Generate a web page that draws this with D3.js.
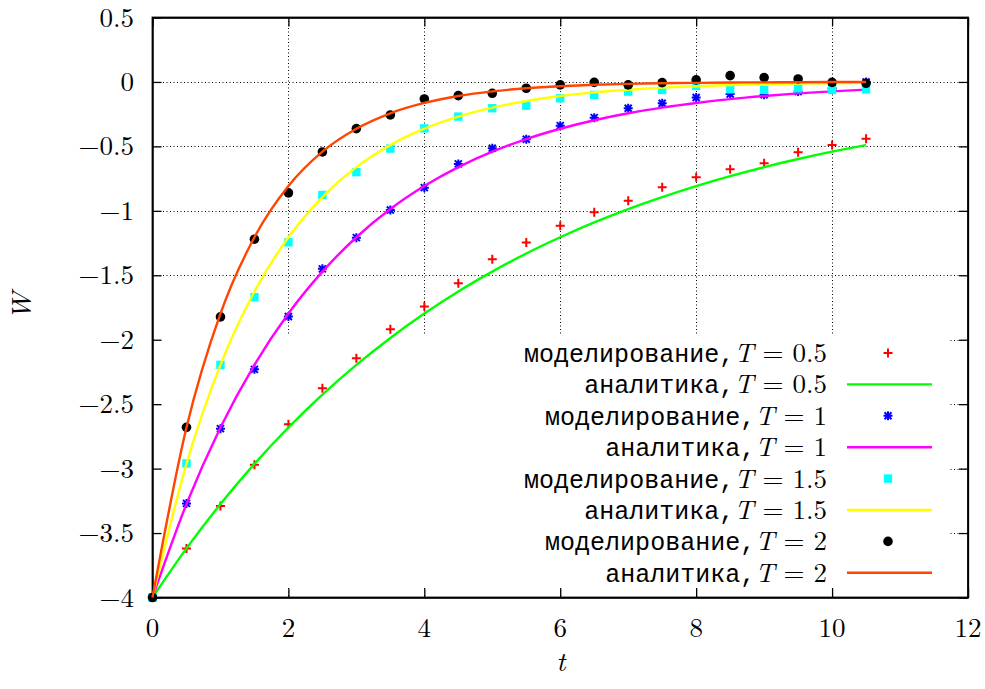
<!DOCTYPE html>
<html><head><meta charset="utf-8">
<script src="https://cdn.jsdelivr.net/npm/d3@7"></script>
<style>body{margin:0;background:#fff}svg{display:block}</style>
</head><body>
<svg id="c" width="985" height="689"></svg>
<script>
const tVals = [0,0.5,1,1.5,2,2.5,3,3.5,4,4.5,5,5.5,6,6.5,7,7.5,8,8.5,9,9.5,10,10.5];
const simT05 = [-4,-3.62,-3.29,-2.97,-2.656,-2.376,-2.144,-1.919,-1.743,-1.562,-1.376,-1.246,-1.115,-1.011,-0.921,-0.817,-0.740,-0.677,-0.631,-0.546,-0.489,-0.44];
const anaT05 = [-4,-3.619,-3.275,-2.963,-2.681,-2.426,-2.195,-1.986,-1.797,-1.626,-1.472,-1.331,-1.205,-1.090,-0.986,-0.893,-0.808,-0.731,-0.661,-0.598,-0.541,-0.490];
const simT1 = [-4,-3.27,-2.69,-2.23,-1.82,-1.45,-1.208,-0.993,-0.82,-0.636,-0.515,-0.445,-0.339,-0.277,-0.204,-0.165,-0.121,-0.093,-0.10,-0.075,-0.05,0.0];
const anaT1 = [-4,-3.275,-2.681,-2.195,-1.797,-1.472,-1.205,-0.986,-0.808,-0.661,-0.541,-0.443,-0.363,-0.297,-0.243,-0.199,-0.163,-0.133,-0.109,-0.089,-0.073,-0.060];
const simT15 = [-4,-2.96,-2.195,-1.67,-1.244,-0.877,-0.70,-0.517,-0.36,-0.269,-0.204,-0.184,-0.127,-0.101,-0.075,-0.062,-0.031,-0.057,-0.062,-0.049,-0.062,-0.057];
const anaT15 = [-4,-2.963,-2.195,-1.626,-1.205,-0.893,-0.661,-0.490,-0.363,-0.269,-0.199,-0.148,-0.109,-0.081,-0.060,-0.044,-0.033,-0.024,-0.018,-0.013,-0.010,-0.007];
const simT2 = [-4,-2.68,-1.823,-1.22,-0.861,-0.543,-0.362,-0.256,-0.132,-0.106,-0.088,-0.049,-0.023,-0.003,-0.023,-0.005,0.016,0.049,0.034,0.023,-0.003,-0.01];
const anaT2 = [-4,-2.681,-1.797,-1.205,-0.808,-0.541,-0.363,-0.243,-0.163,-0.109,-0.073,-0.049,-0.033,-0.022,-0.015,-0.010,-0.007,-0.004,-0.003,-0.002,-0.001,-0.001];
const xTicks = [0,2,4,6,8,10,12];
const yTicks = [-4,-3.5,-3,-2.5,-2,-1.5,-1,-0.5,0,0.5];
const tValues = ["0.5","1","1.5","2"];

const SERIF = '"Latin Modern Roman"';
const MONO = '"Liberation Mono"';
const svg = d3.select("#c");
const x = d3.scaleLinear().domain([0,12]).range([152.5,968]);
const y = d3.scaleLinear().domain([-4,0.5]).range([597.5,17.5]);

// grid
const grid = svg.append("g").attr("stroke","#000").attr("stroke-width",1).attr("stroke-dasharray","1,2.5");
xTicks.filter(v=>v>0&&v<12).forEach(v=>{
  grid.append("line").attr("x1",Math.round(x(v))+0.5).attr("x2",Math.round(x(v))+0.5).attr("y1",y(0.5)).attr("y2",y(-4));
});
yTicks.filter(v=>v>-4&&v<0.5).forEach(v=>{
  grid.append("line").attr("y1",Math.round(y(v))+0.5).attr("y2",Math.round(y(v))+0.5).attr("x1",x(0)).attr("x2",x(12));
});
// opaque key box
svg.append("rect").attr("x",155).attr("y",336).attr("width",795).attr("height",252).attr("fill","#fff");

// axes with inward ticks
const axB = d3.axisBottom(x).tickValues(xTicks).tickSizeInner(-9).tickSizeOuter(0).tickFormat("");
const axT = d3.axisTop(x).tickValues(xTicks).tickSizeInner(-9).tickSizeOuter(0).tickFormat("");
const axL = d3.axisLeft(y).tickValues(yTicks).tickSizeInner(-9).tickSizeOuter(0).tickFormat("");
const axR = d3.axisRight(y).tickValues(yTicks).tickSizeInner(-9).tickSizeOuter(0).tickFormat("");
function styleAx(g){g.selectAll("path,line").attr("stroke","#000").attr("stroke-width",1.3);}
svg.append("g").attr("transform",`translate(0,${y(-4)})`).call(axB).call(styleAx);
svg.append("g").attr("transform",`translate(0,${y(0.5)})`).call(axT).call(styleAx);
svg.append("g").attr("transform",`translate(${x(0)},0)`).call(axL).call(styleAx);
svg.append("g").attr("transform",`translate(${x(12)},0)`).call(axR).call(styleAx);
svg.append("rect").attr("x",x(0)).attr("y",y(0.5)).attr("width",x(12)-x(0)).attr("height",y(-4)-y(0.5))
  .attr("fill","none").attr("stroke","#000").attr("stroke-width",1.8);

// tick labels
const fmt = v => (v<0?"\u2212":"") + Math.abs(v);
svg.append("g").selectAll("text").data(xTicks).join("text")
  .attr("x",d=>x(d)).attr("y",637).attr("text-anchor","middle")
  .style("font-family",SERIF).style("font-size","27px").text(fmt);
svg.append("g").selectAll("text").data(yTicks).join("text")
  .attr("x",134).attr("y",d=>y(d)+9).attr("text-anchor","end")
  .style("font-family",SERIF).style("font-size","27px").text(fmt);
// axis titles
svg.append("text").attr("transform","translate(31,306) rotate(-90)").attr("text-anchor","middle")
  .style("font-family",SERIF).style("font-style","italic").style("font-size","28px").text("W");
svg.append("text").attr("x",561).attr("y",671).attr("text-anchor","middle")
  .style("font-family",SERIF).style("font-style","italic").style("font-size","28px").text("t");

// marks
const line = d3.line().x((d,i)=>x(tVals[i])).y(d=>y(d)).curve(d3.curveMonotoneX);
const plot = svg.append("g");
function plus(g,cx,cy){g.append("path").attr("d",`M${cx-4.5},${cy}H${cx+4.5}M${cx},${cy-4.5}V${cy+4.5}`).attr("stroke","#ff0000").attr("stroke-width",2).attr("fill","none");}
function star(g,cx,cy){g.append("path").attr("d",`M${cx-4.5},${cy}H${cx+4.5}M${cx},${cy-4.5}V${cy+4.5}M${cx-3.5},${cy-3.5}L${cx+3.5},${cy+3.5}M${cx-3.5},${cy+3.5}L${cx+3.5},${cy-3.5}`).attr("stroke","#0000ff").attr("stroke-width",2).attr("fill","none");}
function square(g,cx,cy){g.append("rect").attr("x",cx-4.2).attr("y",cy-4.2).attr("width",8.4).attr("height",8.4).attr("fill","#00ffff");}
function dot(g,cx,cy){g.append("circle").attr("cx",cx).attr("cy",cy).attr("r",4.8).attr("fill","#000");}
const series = [
  {sim:simT05, ana:anaT05, sym:plus, col:"#00ff00"},
  {sim:simT1, ana:anaT1, sym:star, col:"#ff00ff"},
  {sim:simT15, ana:anaT15, sym:square, col:"#ffff00"},
  {sim:simT2, ana:anaT2, sym:dot, col:"#ff4500"}
];
series.forEach(s=>{
  const gp = plot.append("g");
  s.sim.forEach((v,i)=>s.sym(gp,x(tVals[i]),y(v)));
  plot.append("path").datum(s.ana).attr("d",line).attr("fill","none").attr("stroke",s.col).attr("stroke-width",2.4);
});

// legend
const leg = svg.append("g");
const rowY0 = 353, rowH = 31.4;
series.forEach((s,k)=>{
  ["sim","ana"].forEach((kind,j)=>{
    const ry = rowY0 + (2*k+j)*rowH;
    const t = leg.append("text").attr("x",827).attr("y",ry+9).attr("text-anchor","end")
      .style("font-family",SERIF).style("font-size","27px");
    t.append("tspan").style("font-family",MONO).style("font-size","25px").text(kind==="sim"?"моделирование,":"аналитика,");
    t.append("tspan").style("font-style","italic").text("T");
    t.append("tspan").text(" = " + tValues[k]);
    if(kind==="sim") s.sym(leg,888,ry);
    else leg.append("line").attr("x1",847).attr("x2",932).attr("y1",ry).attr("y2",ry).attr("stroke",s.col).attr("stroke-width",2.4);
  });
});
</script>
</body></html>
